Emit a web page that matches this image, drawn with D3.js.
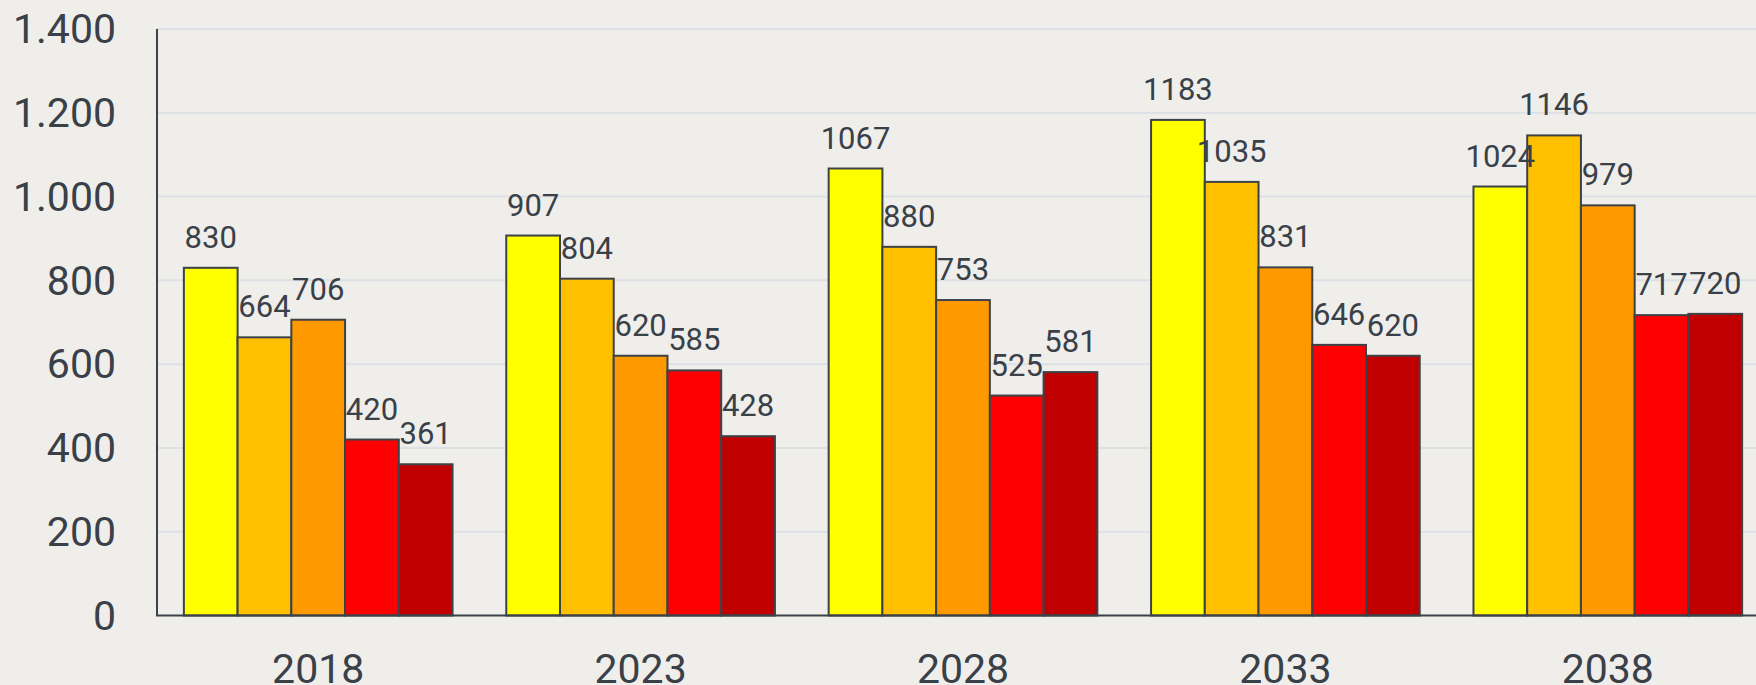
<!DOCTYPE html>
<html>
<head>
<meta charset="utf-8">
<script src="https://cdn.jsdelivr.net/npm/d3@7"></script>
<style>
  html, body { margin: 0; padding: 0; background: #efeeea; }
  svg { display: block; }
  text { font-family: Roboto, "Noto Sans", sans-serif; fill: #3a4048; }
</style>
</head>
<body>
<div id="chart"></div>
<script>
let w = 1756,
    h = 685;

// categories (x) and series
let years = ["2018", "2023", "2028", "2033", "2038"];
let seriesNames = ["s1", "s2", "s3", "s4", "s5"];
let seriesColors = ["#ffff00", "#ffc000", "#ff9900", "#ff0000", "#c00000"];

// values per year, one array per series
let s1 = [830, 907, 1067, 1183, 1024];
let s2 = [664, 804, 880, 1035, 1146];
let s3 = [706, 620, 753, 831, 979];
let s4 = [420, 585, 525, 646, 717];
let s5 = [361, 428, 581, 620, 720];
let series = [s1, s2, s3, s4, s5];

let yTicks = [0, 200, 400, 600, 800, 1000, 1200, 1400];

let margin = { left: 157, top: 29, bottom: 615.5 };

let svg = d3.select("#chart")
            .append("svg")
            .attr("width", w)
            .attr("height", h);

let x = d3.scaleBand()
          .domain(years)
          .range([margin.left, 1769])
          .paddingInner(1 / 6)
          .paddingOuter(1 / 12);

let xInner = d3.scaleBand()
               .domain(seriesNames)
               .range([0, x.bandwidth()]);

let y = d3.scaleLinear()
          .domain([0, 1400])
          .range([margin.bottom, margin.top]);

// gridlines
svg.selectAll(".grid")
   .data(yTicks.slice(1))
   .enter()
   .append("line")
   .attr("x1", margin.left)
   .attr("x2", w)
   .attr("y1", d => y(d))
   .attr("y2", d => y(d))
   .style("stroke", "#dde1e6")
   .style("stroke-width", 2);

// y tick labels (dot as thousands separator)
let fmt = d3.formatLocale({ decimal: ",", thousands: ".", grouping: [3], currency: ["", ""] }).format(",");

svg.selectAll(".ylab")
   .data(yTicks)
   .enter()
   .append("text")
   .attr("x", 116)
   .attr("y", d => y(d))
   .attr("dy", "0.35em")
   .attr("text-anchor", "end")
   .style("font-size", "41px")
   .text(d => fmt(d));

// bars
let groups = svg.selectAll(".year")
                .data(years)
                .enter()
                .append("g")
                .attr("transform", d => "translate(" + x(d) + ",0)");

groups.each(function(year, i) {
  let g = d3.select(this);
  let cells = series.map((s, k) => ({ name: seriesNames[k], color: seriesColors[k], value: s[i] }));

  g.selectAll("rect")
   .data(cells)
   .enter()
   .append("rect")
   .attr("x", d => xInner(d.name))
   .attr("y", d => y(d.value))
   .attr("width", xInner.bandwidth())
   .attr("height", d => y(0) - y(d.value))
   .style("fill", d => d.color)
   .style("stroke", "#3d4247")
   .style("stroke-width", 2);

  g.selectAll(".val")
   .data(cells)
   .enter()
   .append("text")
   .attr("x", d => xInner(d.name) + xInner.bandwidth() / 2)
   .attr("y", d => y(d.value) - 20)
   .attr("text-anchor", "middle")
   .style("font-size", "31px")
   .text(d => d.value);
});

// axes lines
svg.append("line")
   .attr("x1", margin.left)
   .attr("x2", margin.left)
   .attr("y1", margin.top)
   .attr("y2", y(0))
   .style("stroke", "#3b4249")
   .style("stroke-width", 2);

svg.append("line")
   .attr("x1", margin.left - 1)
   .attr("x2", w)
   .attr("y1", y(0))
   .attr("y2", y(0))
   .style("stroke", "#3b4249")
   .style("stroke-width", 2);

// x labels
svg.selectAll(".xlab")
   .data(years)
   .enter()
   .append("text")
   .attr("x", d => x(d) + x.bandwidth() / 2)
   .attr("y", 683)
   .attr("text-anchor", "middle")
   .style("font-size", "41px")
   .text(d => d);
</script>
</body>
</html>
